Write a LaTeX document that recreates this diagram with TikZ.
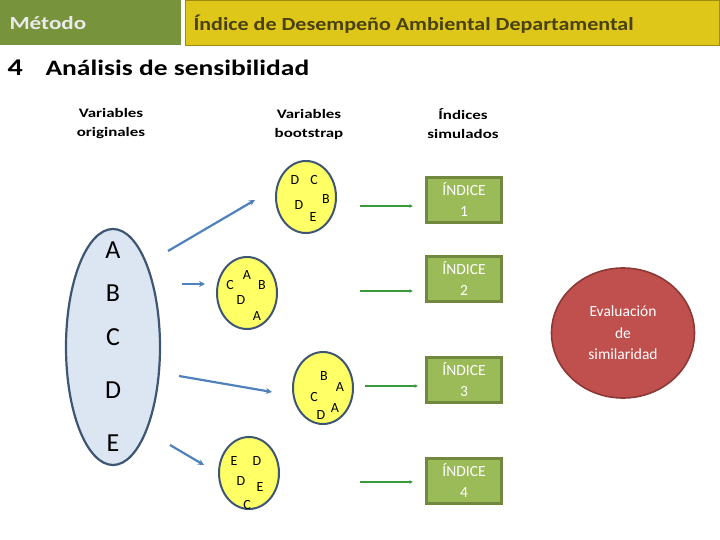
\documentclass[tikz,border=0pt]{standalone}
\usepackage{fontspec}
\setmainfont{Carlito}
\newfontfamily\widebold{Carlito}[FakeStretch=1.25, UprightFont=*-Bold]
\newfontfamily\midbold{Carlito}[FakeStretch=1.19, UprightFont=*-Bold]
\newfontfamily\widehead{Carlito}[FakeStretch=1.3, UprightFont=*-Bold]
\usetikzlibrary{arrows.meta,shapes.geometric}
\definecolor{hdrgreen}{HTML}{77933C}
\definecolor{hdryellow}{HTML}{DEC719}
\definecolor{hdrtext}{HTML}{4A4110}
\definecolor{origfill}{HTML}{DCE6F2}
\definecolor{ellborder}{HTML}{3E5673}
\definecolor{bootfill}{HTML}{FFFF66}
\definecolor{arrblue}{HTML}{4F81BD}
\definecolor{arrgreen}{HTML}{3A9A3A}
\definecolor{idxfill}{HTML}{9BBB59}
\definecolor{idxborder}{HTML}{71893F}
\definecolor{evalfill}{HTML}{C0504D}
\definecolor{evalborder}{HTML}{8C3836}
\tikzset{
  bootell/.style={ellipse, draw=ellborder, line width=2pt, fill=bootfill, minimum width=60pt, minimum height=72pt, inner sep=0pt},
  lt/.style={font=\fontsize{14}{14}\selectfont, inner sep=0pt},
  idxbox/.style={draw=idxborder, line width=2.2pt, fill=idxfill, minimum width=75pt, minimum height=45pt, text=white, align=center, font=\fontsize{15.5}{21}\selectfont},
  bluearr/.style={draw=arrblue, line width=2.2pt, -{Stealth[length=6pt,width=6pt]}},
  greenarr/.style={draw=arrgreen, line width=1.6pt, -{Latex[length=3.5pt,width=4pt]}},
  colhead/.style={align=center, font=\widehead\fontsize{13}{19}\selectfont},
}
\begin{document}
\begin{tikzpicture}[x=1pt,y=-1pt]
\useasboundingbox (0,0) rectangle (720,540);
% header
\node[fill=hdrgreen, minimum width=181pt, minimum height=45pt, anchor=north west, inner sep=0pt] (hm) at (0,0) {};
\node[anchor=west, text=white!92!black, font=\widebold\fontsize{18.5}{18.5}\selectfont] (hmt) at (6,23) {Método};
\node[fill=hdryellow, draw=hdryellow!70!black, line width=0.6pt, minimum width=534pt, minimum height=45pt, anchor=north west, inner sep=0pt] (hy) at (185,0) {};
\node[anchor=west, text=hdrtext, font=\midbold\fontsize{18.5}{18.5}\selectfont] (hyt) at (190,24) {Índice de Desempeño Ambiental Departamental};
% title
\node[anchor=west, font=\widebold\fontsize{24}{24}\selectfont] (num) at (4,68) {4};
\node[anchor=west, font=\widebold\fontsize{22}{22}\selectfont] (title) at (42,68) {Análisis de sensibilidad};
% column headings
\node[colhead] (h1) at (111,124) {Variables\\originales};
\node[colhead] (h2) at (309,124) {Variables\\bootstrap};
\node[colhead] (h3) at (463,124) {Índices\\simulados};
% original variables
\node[ellipse, draw=ellborder, line width=2.2pt, fill=origfill, minimum width=94pt, minimum height=236pt, inner sep=0pt] (orig) at (113,347) {};
\foreach \l/\yy in {A/250,B/293,C/337,D/390,E/443}
  \node[font=\fontsize{26}{26}\selectfont, inner sep=0pt] (o\l) at (113,\yy) {\l};
% bootstrap ellipses
\node[bootell] (b1) at (306,197) {};
\node[lt] (b1a) at (295,180) {D};
\node[lt] (b1b) at (314,180) {C};
\node[lt] (b1c) at (326,199) {B};
\node[lt] (b1d) at (299,205) {D};
\node[lt] (b1e) at (313,217) {E};
\node[bootell] (b2) at (247,293) {};
\node[lt] (b2a) at (230,285) {C};
\node[lt] (b2b) at (247,275) {A};
\node[lt] (b2c) at (262,285) {B};
\node[lt] (b2d) at (241,300) {D};
\node[lt] (b2e) at (257,316) {A};
\node[bootell] (b3) at (323,388) {};
\node[lt] (b3a) at (324,376) {B};
\node[lt] (b3b) at (340,387) {A};
\node[lt] (b3c) at (314,397) {C};
\node[lt] (b3d) at (335,408) {A};
\node[lt] (b3e) at (321,415) {D};
\node[bootell] (b4) at (249,473) {};
\node[lt] (b4a) at (234,461) {E};
\node[lt] (b4b) at (257,461) {D};
\node[lt] (b4c) at (241,481) {D};
\node[lt] (b4d) at (260,487) {E};
\node[lt] (b4e) at (247,505) {C};
% blue arrows
\coordinate (ba1s) at (168,251); \coordinate (ba1e) at (255,200);
\coordinate (ba2s) at (182,284); \coordinate (ba2e) at (205,284);
\coordinate (ba3s) at (179,376); \coordinate (ba3e) at (272,392);
\coordinate (ba4s) at (170,445); \coordinate (ba4e) at (204,465);
\draw[bluearr] (ba1s) -- (ba1e);
\draw[bluearr] (ba2s) -- (ba2e);
\draw[bluearr] (ba3s) -- (ba3e);
\draw[bluearr] (ba4s) -- (ba4e);
% index boxes
\node[idxbox] (i1) at (464,200) {ÍNDICE\\1};
\node[idxbox] (i2) at (464,279) {ÍNDICE\\2};
\node[idxbox] (i3) at (464,380) {ÍNDICE\\3};
\node[idxbox] (i4) at (464,481) {ÍNDICE\\4};
% green arrows
\coordinate (ga1s) at (360,206); \coordinate (ga1e) at (413,206);
\coordinate (ga2s) at (360,291); \coordinate (ga2e) at (413,291);
\coordinate (ga3s) at (365,386); \coordinate (ga3e) at (418,386);
\coordinate (ga4s) at (360,482); \coordinate (ga4e) at (413,482);
\draw[greenarr] (ga1s) -- (ga1e);
\draw[greenarr] (ga2s) -- (ga2e);
\draw[greenarr] (ga3s) -- (ga3e);
\draw[greenarr] (ga4s) -- (ga4e);
% evaluation
\node[ellipse, draw=evalborder, line width=1.6pt, fill=evalfill, minimum width=143pt, minimum height=130pt, inner sep=0pt, text=white, align=center, font=\fontsize{15.5}{21.5}\selectfont] (ev) at (623,333) {Evaluación\\de\\similaridad};
\end{tikzpicture}
\end{document}
